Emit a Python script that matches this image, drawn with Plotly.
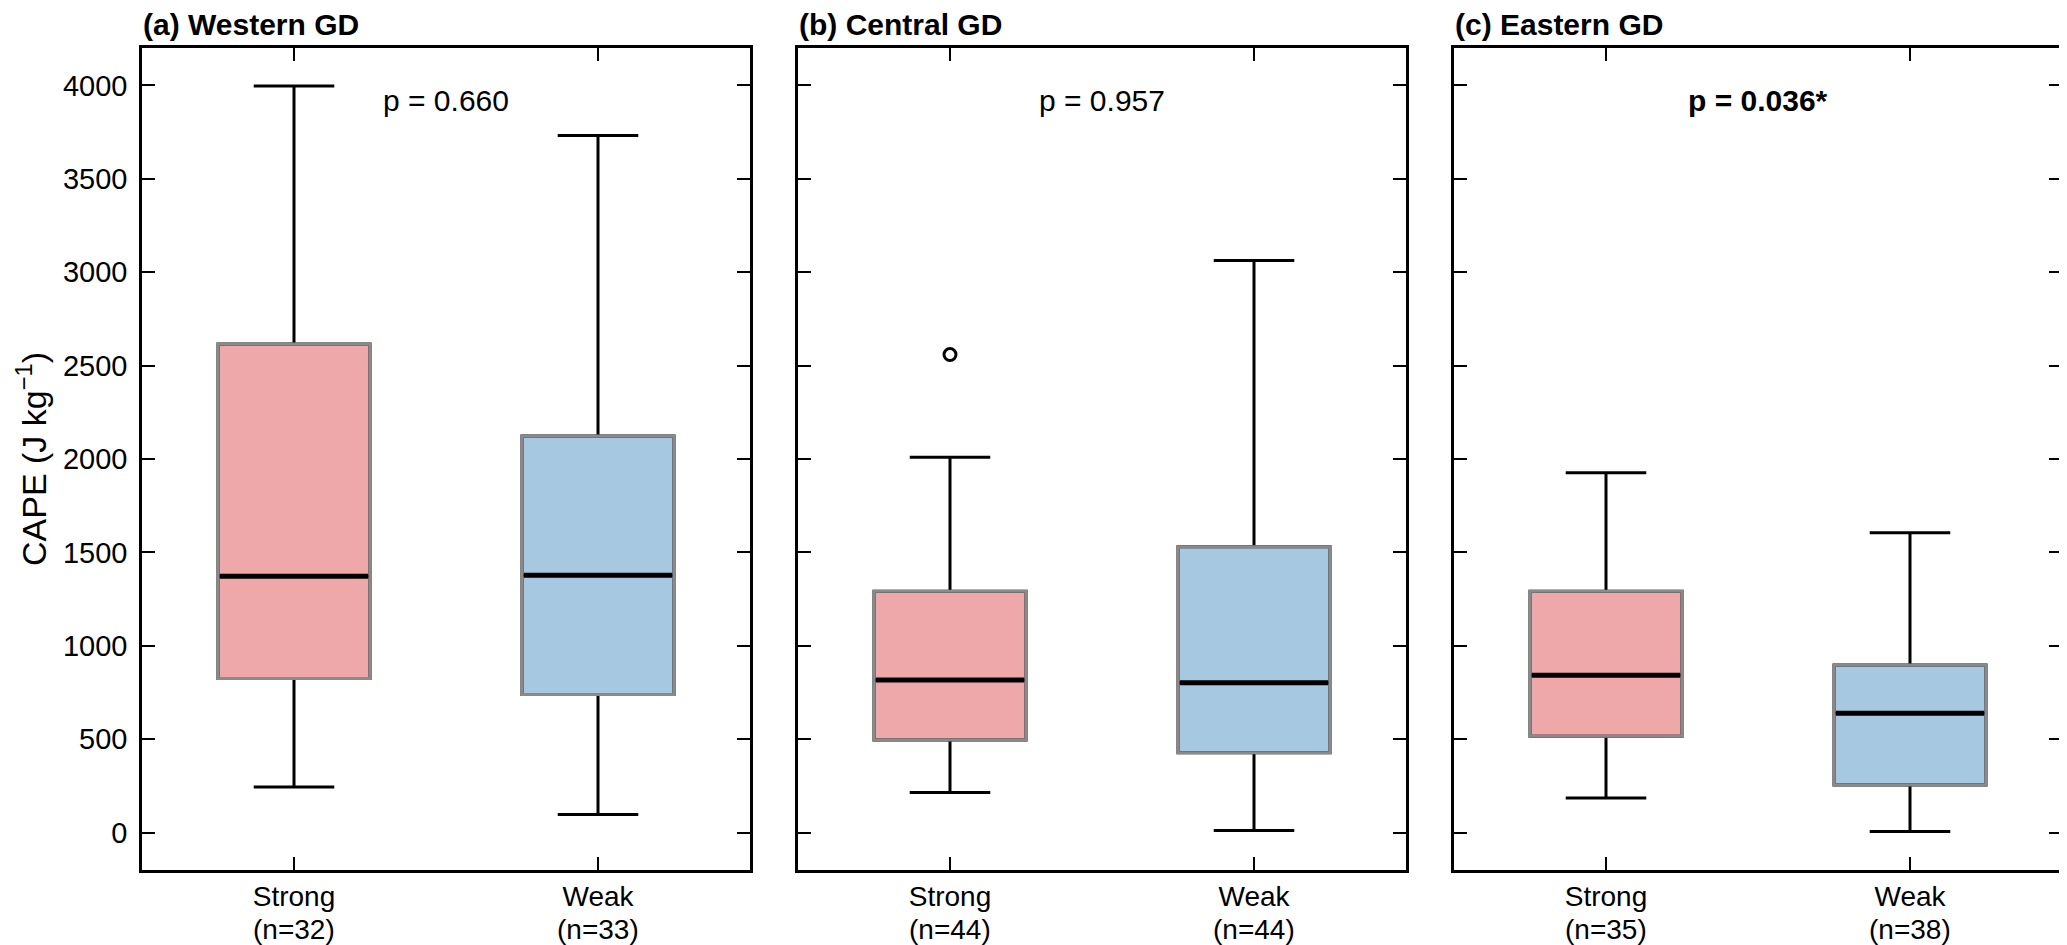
import plotly.graph_objects as go
from plotly.subplots import make_subplots

# data (CAPE, J/kg)
regions = ["(a) Western GD", "(b) Central GD", "(c) Eastern GD"]
groups = ["Strong", "Weak"]
n_counts = [[32, 33], [44, 44], [35, 38]]
p_labels = ["p = 0.660", "p = 0.957", "<b>p = 0.036*</b>"]

lower = [[244, 97], [215, 11], [186, 6]]
q1 = [[825, 739], [496, 427], [516, 255]]
med = [[1372, 1378], [817, 802], [842, 639]]
q3 = [[2616, 2123], [1292, 1530], [1292, 897]]
upper = [[3997, 3731], [2009, 3063], [1926, 1605]]
outliers = [[[], []], [[2559], []], [[], []]]

y_ticks = [0, 500, 1000, 1500, 2000, 2500, 3000, 3500, 4000]

fills = ["#EEA8AA", "#A6C8E0"]
edge = "#8a8a8a"
font_family = "Liberation Sans, Arial, sans-serif"
box_w = 0.5

# page is 2067x945, the html body puts the figure 8px in from the top-left
PAD = 8
FW, FH = 2067 - PAD, 945 - PAD


def px_x(p):
    return (p - PAD) / FW


def px_y(p):
    return 1 - (p - PAD) / FH


x_dom = [(142, 750), (798, 1406), (1454, 2062)]
y_dom = [px_y(870), px_y(48)]

fig = make_subplots(rows=1, cols=3)

for k in range(3):
    sfx = "" if k == 0 else str(k + 1)
    for i in range(2):
        fig.add_trace(go.Box(
            x=[i], q1=[q1[k][i]], median=[med[k][i]], q3=[q3[k][i]],
            lowerfence=[lower[k][i]], upperfence=[upper[k][i]],
            width=box_w, whiskerwidth=0.53, fillcolor=fills[i],
            line=dict(color="black", width=3), boxpoints=False,
            showlegend=False, hoverinfo="skip"
        ), row=1, col=k + 1)
        # grey box outline like the original
        fig.add_shape(type="rect", x0=i - box_w / 2, x1=i + box_w / 2,
                      y0=q1[k][i], y1=q3[k][i],
                      line=dict(color=edge, width=3), row=1, col=k + 1)
        # black median drawn over the outline
        fig.add_trace(go.Scatter(
            x=[i - box_w / 2 + 0.006, i + box_w / 2 - 0.006], y=[med[k][i], med[k][i]],
            mode="lines", line=dict(color="black", width=5),
            showlegend=False, hoverinfo="skip"
        ), row=1, col=k + 1)
        if outliers[k][i]:
            fig.add_trace(go.Scatter(
                x=[i] * len(outliers[k][i]), y=outliers[k][i], mode="markers",
                marker=dict(symbol="circle-open", size=12, color="black",
                            line=dict(width=3, color="black")),
                showlegend=False, hoverinfo="skip"
            ), row=1, col=k + 1)
        # sample size under each tick label
        fig.add_annotation(text=f"(n={n_counts[k][i]})", xref=f"x{sfx}",
                           yref="paper", x=i, y=px_y(929), yanchor="middle",
                           showarrow=False,
                           font=dict(size=28, color="black", family=font_family))

    fig.layout[f"xaxis{sfx}"].update(
        domain=[px_x(x_dom[k][0]), px_x(x_dom[k][1])], range=[-0.5, 1.5],
        tickvals=[0, 1], ticktext=groups,
    )
    fig.layout[f"yaxis{sfx}"].update(domain=y_dom, showticklabels=(k == 0))

    fig.add_annotation(text=f"<b>{regions[k]}</b>", xref=f"x{sfx} domain",
                       x=-0.002, xanchor="left", yref="paper", y=px_y(24),
                       yanchor="middle", showarrow=False,
                       font=dict(size=30, color="black", family=font_family))
    fig.add_annotation(text=p_labels[k], xref=f"x{sfx}", yref=f"y{sfx}",
                       x=0.5, y=3920, showarrow=False,
                       font=dict(size=30, color="black", family=font_family))

fig.update_xaxes(showline=True, linecolor="black", linewidth=2.5, mirror="ticks",
                 ticks="inside", ticklen=13, tickwidth=2, tickcolor="black",
                 showgrid=False, zeroline=False,
                 tickfont=dict(size=28, color="black", family=font_family))
fig.update_yaxes(range=[-200, 4200], tickvals=y_ticks,
                 showline=True, linecolor="black", linewidth=2.5, mirror="ticks",
                 ticks="inside", ticklen=13, tickwidth=2, tickcolor="black",
                 showgrid=False, zeroline=False, ticklabelstandoff=6,
                 tickfont=dict(size=29, color="black", family=font_family))

fig.add_annotation(text="CAPE (J kg<sup>−1</sup>)", xref="paper", yref="paper",
                   x=px_x(32), xanchor="center",
                   y=(y_dom[0] + y_dom[1]) / 2, yanchor="middle", textangle=-90,
                   showarrow=False,
                   font=dict(size=34, color="black", family=font_family))

fig.update_layout(template="none", width=FW, height=FH,
                  margin=dict(l=0, r=0, t=0, b=0),
                  plot_bgcolor="white", paper_bgcolor="white",
                  font=dict(family=font_family, color="black"))

fig.write_html("out.html")
